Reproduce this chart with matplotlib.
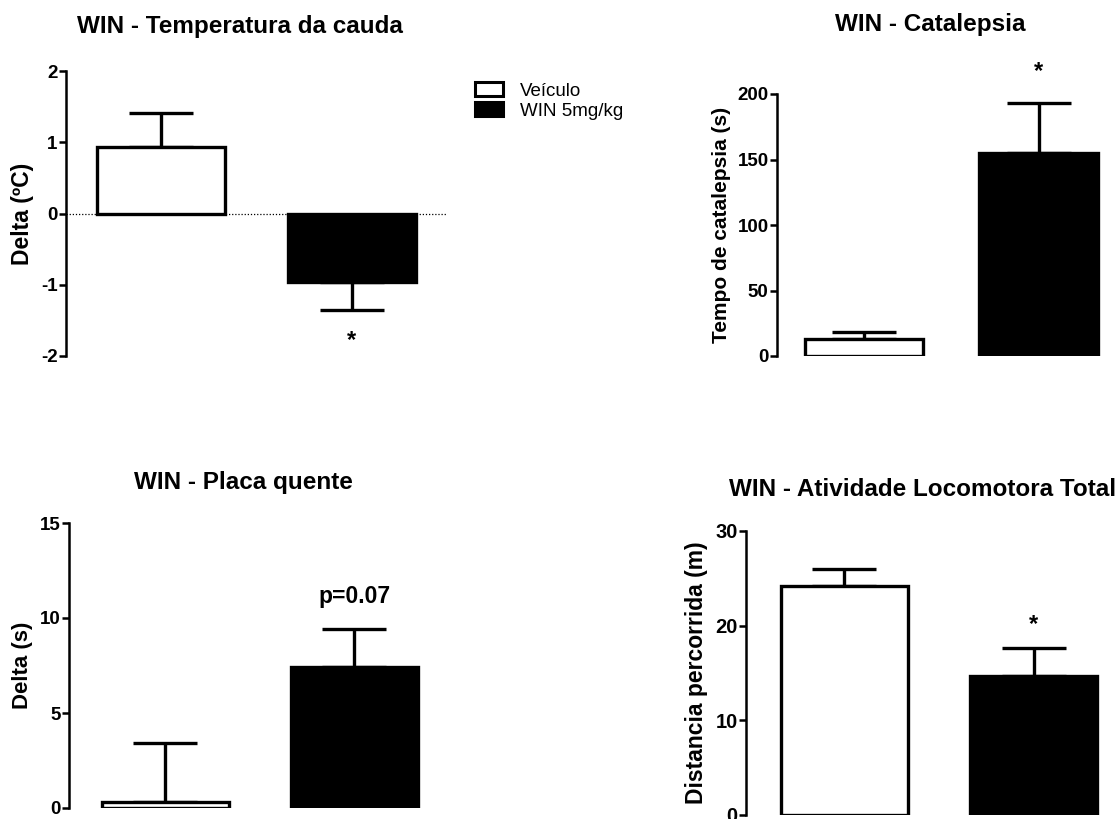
import matplotlib
matplotlib.use("Agg")
import matplotlib.pyplot as plt
from matplotlib.patches import Patch

plt.rcParams['font.family'] = ['Liberation Sans', 'DejaVu Sans']
plt.rcParams['axes.unicode_minus'] = False

groups = ["Veículo", "WIN 5mg/kg"]
colors = ["white", "black"]

temp_mean = [0.93, -0.96]
temp_err = [0.48, 0.40]

catal_mean = [13.0, 155.0]
catal_err = [5.5, 38.5]

placa_mean = [0.3, 7.4]
placa_err = [3.1, 2.0]

loco_mean = [24.2, 14.7]
loco_err = [1.8, 2.9]

W, H = 1118, 819
fig = plt.figure(figsize=(W / 100, H / 100), dpi=100)


def add_ax(x0, x1, ytop, ybot):
    return fig.add_axes([x0 / W, (H - ybot) / H, (x1 - x0) / W, (ybot - ytop) / H])


def ftext(x, y, s, **kw):
    fig.text(x / W, 1 - y / H, s, ha="center", va="center", **kw)


def draw(ax, means, errs, xlim, ylim, yticks, ylabel, width=0.67,
         tsize=13.5, lsize=15):
    xs = list(range(len(means)))
    ax.bar(xs, means, width=width, color=colors, edgecolor="black", linewidth=2.4,
           zorder=3, joinstyle="miter")
    for x, m, e in zip(xs, means, errs):
        lo, hi = ([0], [e]) if m >= 0 else ([e], [0])
        ax.errorbar([x], [m], yerr=[lo, hi], fmt="none", ecolor="black",
                    elinewidth=2.4, capsize=23, capthick=2.4, zorder=2)
    ax.set_xlim(*xlim)
    ax.set_ylim(*ylim)
    ax.set_yticks(yticks)
    ax.set_xticks([])
    for s in ["top", "right", "bottom"]:
        ax.spines[s].set_visible(False)
    ax.spines["left"].set_linewidth(1.8)
    ax.tick_params(axis="y", direction="out", length=5, width=1.8, labelsize=tsize, pad=1)
    for lab in ax.get_yticklabels():
        lab.set_fontweight("bold")
    ax.set_ylabel(ylabel, fontsize=lsize, fontweight="bold", labelpad=5)
    ax.patch.set_alpha(0)


# Panel 1
ax1 = add_ax(66, 447, 71, 356)
draw(ax1, temp_mean, temp_err, (-0.5, 1.5), (-2, 2), [-2, -1, 0, 1, 2], "Delta (ºC)",
     lsize=16.5)
ax1.axhline(0, color="black", linestyle=(0, (1, 1.5)), linewidth=0.9, zorder=1)
ax1.text(1, temp_mean[1] - temp_err[1] - 0.26, "*", ha="center", va="top",
         fontsize=17, fontweight="bold")
ftext(240, 27, "WIN - Temperatura da cauda", fontsize=17.5, fontweight="bold")

# Panel 2
ax2 = add_ax(777, 1118, 94, 356)
draw(ax2, catal_mean, catal_err, (-0.5, (1118 - 864) / 174.5), (0, 200),
     [0, 50, 100, 150, 200], "Tempo de catalepsia (s)", width=0.68)
ax2.text(1, catal_mean[1] + catal_err[1] + 15, "*", ha="center", va="bottom",
         fontsize=17, fontweight="bold")
ftext(930, 25, "WIN - Catalepsia", fontsize=17.5, fontweight="bold")

# Panel 3
ax3 = add_ax(69, 449, 523, 808)
draw(ax3, placa_mean, placa_err, (-0.51, 1.5), (0, 15), [0, 5, 10, 15], "Delta (s)",
     lsize=16)
ax3.text(1, placa_mean[1] + placa_err[1] + 1.1, "p=0.07", ha="center", va="bottom",
         fontsize=16.5, fontweight="bold")
ftext(243, 482, "WIN - Placa quente", fontsize=17.5, fontweight="bold")

# Panel 4
ax4 = add_ax(746, 1118, 531, 815)
draw(ax4, loco_mean, loco_err, (-0.52, (1118 - 845) / 189), (0, 30), [0, 10, 20, 30],
     "Distancia percorrida (m)", tsize=14.5, lsize=16.5)
ax4.text(1, loco_mean[1] + loco_err[1] + 1.3, "*", ha="center", va="bottom",
         fontsize=17, fontweight="bold")
ftext(923, 490, "WIN - Atividade Locomotora Total", fontsize=17.5, fontweight="bold")

# Legend
handles = [Patch(facecolor=c, edgecolor="black", linewidth=2.2, label=g)
           for g, c in zip(groups, colors)]
fig.legend(handles=handles, loc="upper left", bbox_to_anchor=(462 / W, 1 - 69 / H),
           frameon=False, fontsize=13.5, handlelength=1.5, handleheight=0.75,
           handletextpad=0.9, labelspacing=0.15, borderpad=0.2)

fig.savefig("out.png", dpi=100)
